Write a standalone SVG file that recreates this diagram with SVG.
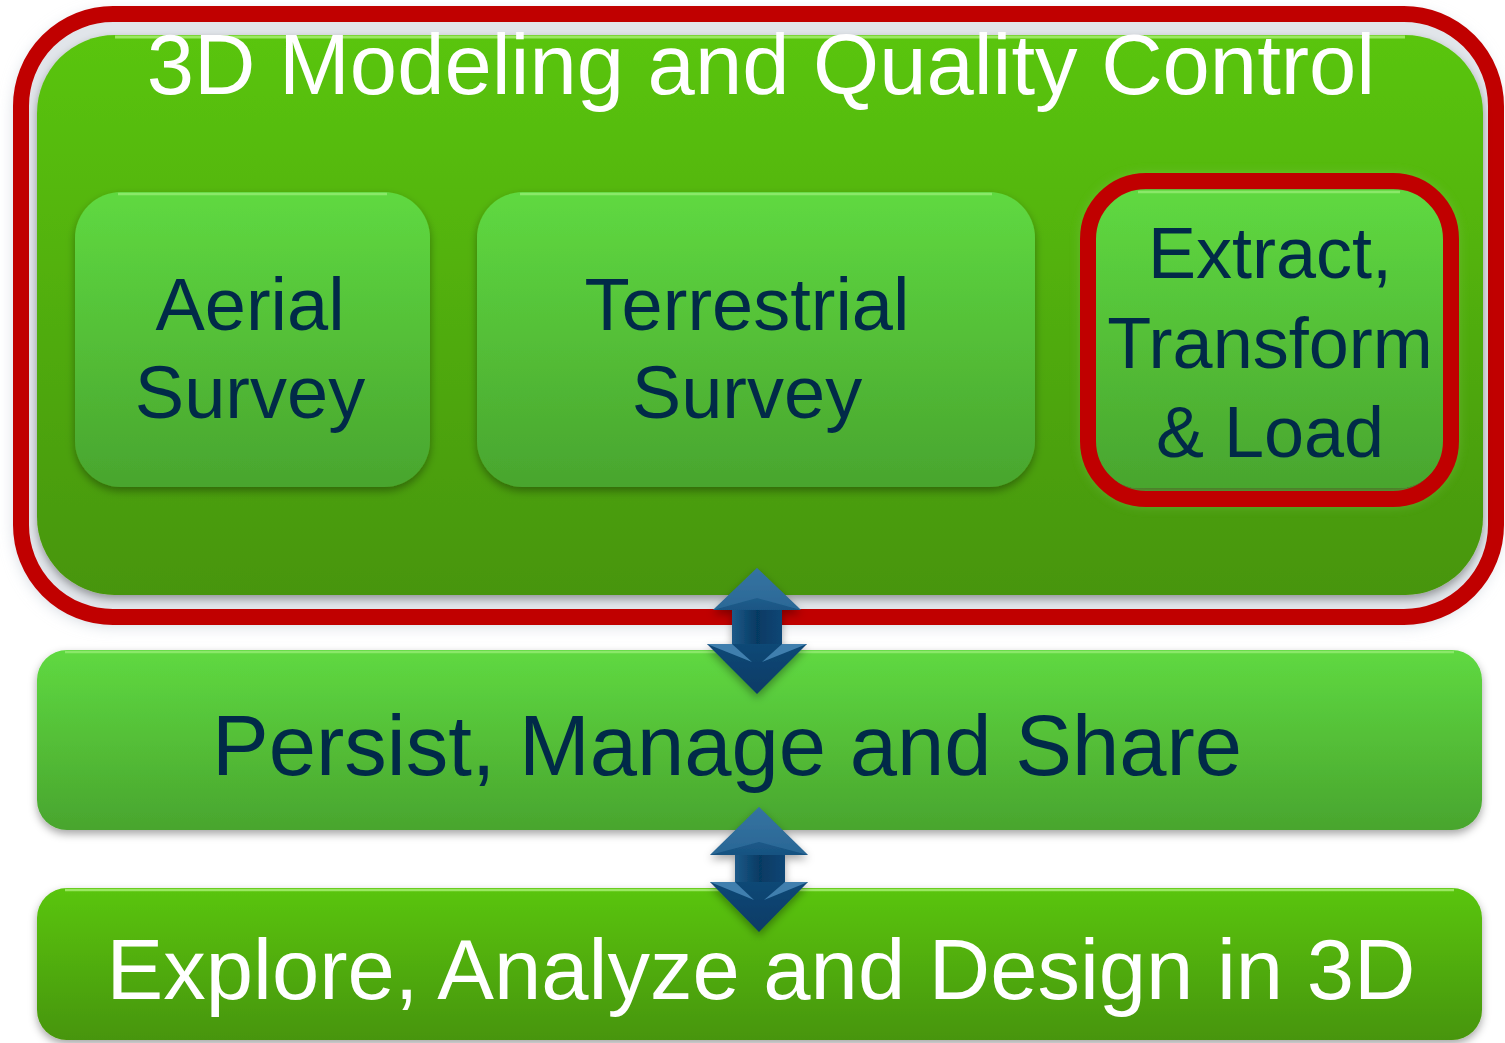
<svg xmlns="http://www.w3.org/2000/svg" width="1505" height="1043" viewBox="0 0 1505 1043">
  <style>
    .lbl { font-family: "Liberation Sans", Arial, sans-serif; text-anchor: middle; }
    .dark { fill: #012a48; }
    .light { fill: #ffffff; }
    .ring { fill: none; stroke: #c00000; stroke-width: 16; }
  </style>
  <defs>
    <linearGradient id="gMain" x1="0" y1="0" x2="0" y2="1">
      <stop offset="0" stop-color="#5ac50e"/>
      <stop offset="1" stop-color="#479507"/>
    </linearGradient>
    <linearGradient id="gLight" x1="0" y1="0" x2="0" y2="1">
      <stop offset="0" stop-color="#5fd941"/>
      <stop offset="1" stop-color="#49a52e"/>
    </linearGradient>
    <linearGradient id="gArrow" x1="0" y1="0" x2="0" y2="1">
      <stop offset="0" stop-color="#2f6e9c"/>
      <stop offset="0.45" stop-color="#124d7c"/>
      <stop offset="1" stop-color="#083b66"/>
    </linearGradient>
    <linearGradient id="gShaft" x1="0" y1="0" x2="1" y2="0">
      <stop offset="0" stop-color="#1d5a88"/>
      <stop offset="0.5" stop-color="#063a63"/>
      <stop offset="1" stop-color="#0d4675"/>
    </linearGradient>
    <filter id="softShadow" x="-10%" y="-10%" width="120%" height="130%">
      <feGaussianBlur in="SourceAlpha" stdDeviation="4"/>
      <feOffset dx="0" dy="4" result="b"/>
      <feFlood flood-color="#000" flood-opacity="0.35"/>
      <feComposite in2="b" operator="in"/>
      <feMerge><feMergeNode/><feMergeNode in="SourceGraphic"/></feMerge>
    </filter>
    <filter id="haze" x="-5%" y="-5%" width="110%" height="115%">
      <feGaussianBlur stdDeviation="8"/>
    </filter>
    <filter id="glow" x="-10%" y="-10%" width="120%" height="120%">
      <feGaussianBlur stdDeviation="6"/>
    </filter>
  </defs>

  <rect width="1505" height="1043" fill="#ffffff"/>

  <!-- highlighted frame around the modeling stage -->
  <g id="frame-highlight">
    <rect x="16" y="14" width="1482" height="610" rx="96" fill="#c7cfd8" filter="url(#haze)"/>
    <rect x="21" y="14" width="1475" height="603" rx="92" fill="#e1e5ea"/>
    <rect x="21" y="14" width="1475" height="603" rx="92" class="ring"/>
  </g>

  <!-- 3D Modeling and Quality Control -->
  <g id="node-modeling">
    <rect x="37" y="35" width="1446" height="560" rx="78" fill="url(#gMain)" filter="url(#softShadow)"/>
    <path d="M115,37 H1405" stroke="#9be862" stroke-width="3" fill="none"/>
    <text class="lbl light" x="761" y="94" font-size="85">3D Modeling and Quality Control</text>
  </g>

  <g id="node-aerial">
    <rect x="75" y="192" width="355" height="295" rx="46" fill="url(#gLight)" filter="url(#softShadow)"/>
    <path d="M118,194 H387" stroke="#8ae869" stroke-width="2.5" fill="none"/>
    <text class="lbl dark" x="250" y="330" font-size="74">Aerial</text>
    <text class="lbl dark" x="250" y="418" font-size="74">Survey</text>
  </g>

  <g id="node-terrestrial">
    <rect x="477" y="192" width="558" height="295" rx="46" fill="url(#gLight)" filter="url(#softShadow)"/>
    <path d="M520,194 H992" stroke="#8ae869" stroke-width="2.5" fill="none"/>
    <text class="lbl dark" x="747" y="330" font-size="74">Terrestrial</text>
    <text class="lbl dark" x="747" y="418" font-size="74">Survey</text>
  </g>

  <g id="node-etl">
    <rect x="1082" y="175" width="375" height="330" rx="64" fill="#7fc25a" opacity="0.6" filter="url(#glow)"/>
    <rect x="1095" y="190" width="348" height="298" rx="46" fill="url(#gLight)" filter="url(#softShadow)"/>
    <path d="M1138,192 H1400" stroke="#8ae869" stroke-width="2.5" fill="none"/>
    <rect x="1088" y="181" width="363" height="318" rx="58" class="ring"/>
    <text class="lbl dark" x="1270" y="278" font-size="72">Extract,</text>
    <text class="lbl dark" x="1270" y="368" font-size="72">Transform</text>
    <text class="lbl dark" x="1270" y="457" font-size="72">&amp; Load</text>
  </g>

  <g id="node-persist">
    <rect x="37" y="650" width="1445" height="180" rx="30" fill="url(#gLight)" filter="url(#softShadow)"/>
    <path d="M65,652 H1454" stroke="#8ae869" stroke-width="2.5" fill="none"/>
    <text class="lbl dark" x="727" y="775" font-size="85">Persist, Manage and Share</text>
  </g>

  <g id="node-explore">
    <rect x="37" y="888" width="1445" height="152" rx="30" fill="url(#gMain)" filter="url(#softShadow)"/>
    <path d="M65,890 H1454" stroke="#9be862" stroke-width="2.5" fill="none"/>
    <text class="lbl light" x="761" y="999" font-size="85">Explore, Analyze and Design in 3D</text>
  </g>

  <!-- two-way arrows between the stages -->
  <g id="connectors" filter="url(#softShadow)">
    <g id="arrow-modeling-persist">
      <path d="M757,568 L801,610 L782,610 L782,644 L807,644 L757,694 L707,644 L732,644 L732,610 L713,610 Z" fill="url(#gArrow)"/>
      <rect x="732" y="610" width="50" height="34" fill="url(#gShaft)"/>
      <path d="M757,568 L801,610 L757,598 L713,610 Z" fill="#3a78a6" opacity="0.55"/>
      <path d="M707,644 L732,644 L752,662 Z" fill="#3f7fae"/>
      <path d="M807,644 L782,644 L762,662 Z" fill="#3f7fae"/>
    </g>
    <g id="arrow-persist-explore">
      <path d="M759,807 L808,855 L785,855 L785,882 L808,882 L759,932 L710,882 L735,882 L735,855 L710,855 Z" fill="url(#gArrow)"/>
      <rect x="735" y="855" width="50" height="27" fill="url(#gShaft)"/>
      <path d="M759,807 L808,855 L759,842 L710,855 Z" fill="#3a78a6" opacity="0.55"/>
      <path d="M710,882 L735,882 L754,900 Z" fill="#3f7fae"/>
      <path d="M808,882 L785,882 L764,900 Z" fill="#3f7fae"/>
    </g>
  </g>
</svg>
